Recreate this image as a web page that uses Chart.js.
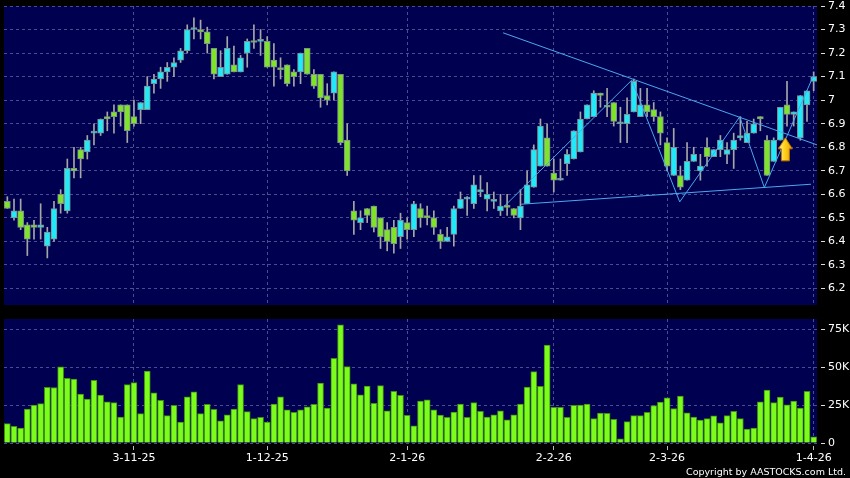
<!DOCTYPE html>
<html>
<head>
<meta charset="utf-8">
<script src="https://cdn.jsdelivr.net/npm/chart.js@4.4.1/dist/chart.umd.min.js"></script>
<style>
  html, body { margin: 0; padding: 0; background: #000; }
  #wrap { position: relative; width: 850px; height: 478px; background: #000; overflow: hidden; }
  #priceBox { position: absolute; left: 0; top: 0; width: 850px; height: 310px; }
  #volBox { position: absolute; left: 0; top: 310px; width: 850px; height: 168px; }
  #copy { position: absolute; right: 4px; top: 466px; font: 9.5px "DejaVu Sans"; color: #fff; white-space: nowrap; }
</style>
</head>
<body>
<div id="wrap">
  <div id="priceBox"><canvas id="priceChart"></canvas></div>
  <div id="volBox"><canvas id="volumeChart"></canvas></div>
  <div id="copy">Copyright by AASTOCKS.com Ltd.</div>
</div>
<script>
// daily candles, one per trading day (index 0 .. 121)
const openPrices = [
  6.57, 6.50, 6.53, 6.47, 6.47, 6.46, 6.38, 6.41, 6.60, 6.53,
  6.71, 6.79, 6.78, 6.86, 6.86, 6.93, 6.95, 6.98, 6.98, 6.93,
  6.96, 6.96, 7.07, 7.09, 7.12, 7.14, 7.17, 7.21, 7.30, 7.30,
  7.29, 7.22, 7.10, 7.11, 7.15, 7.12, 7.20, 7.25, 7.25, 7.25,
  7.17, 7.135, 7.15, 7.12, 7.12, 7.22, 7.11, 7.11, 7.02, 7.03,
  7.11, 6.83, 6.53, 6.48, 6.54, 6.55, 6.50, 6.45, 6.46, 6.42,
  6.48, 6.45, 6.54, 6.51, 6.50, 6.43, 6.40, 6.43, 6.54, 6.58,
  6.56, 6.61, 6.58, 6.57, 6.53, 6.55, 6.54, 6.50, 6.56, 6.63,
  6.72, 6.84, 6.69, 6.66, 6.73, 6.75, 6.78, 6.92, 6.93, 7.03,
  6.975, 6.99, 6.90, 6.90, 6.95, 6.93, 6.98, 6.96, 6.93, 6.82,
  6.68, 6.68, 6.66, 6.74, 6.70, 6.80, 6.76, 6.79, 6.77, 6.79,
  6.84, 6.82, 6.86, 6.93, 6.83, 6.74, 6.83, 6.98, 6.94, 6.84,
  6.98, 7.08
];
const highPrices = [
  6.59, 6.58, 6.58, 6.48, 6.49, 6.56, 6.46, 6.57, 6.62, 6.75,
  6.80, 6.80, 6.85, 6.90, 6.92, 6.95, 6.98, 6.98, 6.98, 7.00,
  6.99, 7.10, 7.11, 7.14, 7.16, 7.18, 7.22, 7.32, 7.35, 7.34,
  7.31, 7.22, 7.21, 7.27, 7.23, 7.19, 7.26, 7.32, 7.30, 7.27,
  7.24, 7.18, 7.15, 7.13, 7.20, 7.22, 7.13, 7.11, 7.07, 7.12,
  7.11, 6.90, 6.57, 6.53, 6.54, 6.55, 6.50, 6.48, 6.49, 6.52,
  6.50, 6.57, 6.56, 6.55, 6.53, 6.45, 6.46, 6.55, 6.61, 6.59,
  6.68, 6.68, 6.65, 6.61, 6.60, 6.60, 6.54, 6.62, 6.70, 6.81,
  6.92, 6.90, 6.75, 6.75, 6.79, 6.87, 6.95, 6.98, 7.04, 7.03,
  7.05, 6.99, 6.97, 7.01, 7.09, 7.05, 7.05, 6.99, 6.95, 6.84,
  6.88, 6.72, 6.82, 6.80, 6.77, 6.84, 6.79, 6.85, 6.82, 6.86,
  6.93, 6.91, 6.92, 6.93, 6.85, 6.84, 6.97, 7.08, 6.95, 7.02,
  7.04, 7.12
];
const lowPrices = [
  6.54, 6.49, 6.45, 6.34, 6.41, 6.41, 6.33, 6.40, 6.52, 6.52,
  6.67, 6.67, 6.75, 6.81, 6.85, 6.87, 6.86, 6.89, 6.82, 6.89,
  6.90, 6.96, 7.03, 7.05, 7.08, 7.10, 7.16, 7.20, 7.26, 7.26,
  7.20, 7.09, 7.10, 7.11, 7.12, 7.12, 7.14, 7.22, 7.19, 7.14,
  7.06, 7.09, 7.06, 7.06, 7.07, 7.11, 7.05, 6.97, 6.98, 7.00,
  6.81, 6.68, 6.43, 6.45, 6.48, 6.44, 6.37, 6.36, 6.35, 6.37,
  6.41, 6.42, 6.46, 6.47, 6.43, 6.37, 6.40, 6.38, 6.54, 6.51,
  6.54, 6.59, 6.53, 6.54, 6.51, 6.51, 6.50, 6.45, 6.56, 6.63,
  6.72, 6.72, 6.61, 6.66, 6.68, 6.75, 6.78, 6.92, 6.93, 6.97,
  6.93, 6.89, 6.82, 6.82, 6.95, 6.93, 6.93, 6.91, 6.81, 6.70,
  6.68, 6.62, 6.66, 6.74, 6.66, 6.72, 6.76, 6.76, 6.73, 6.71,
  6.83, 6.82, 6.86, 6.87, 6.68, 6.74, 6.83, 6.89, 6.89, 6.83,
  6.91, 7.04
];
const closePrices = [
  6.54, 6.53, 6.46, 6.41, 6.46, 6.47, 6.44, 6.54, 6.56, 6.71,
  6.70, 6.75, 6.83, 6.86, 6.92, 6.92, 6.93, 6.95, 6.87, 6.90,
  6.99, 7.06, 7.09, 7.12, 7.14, 7.16, 7.21, 7.30, 7.30, 7.29,
  7.24, 7.11, 7.14, 7.22, 7.12, 7.18, 7.25, 7.245, 7.25, 7.14,
  7.14, 7.13, 7.07, 7.10, 7.20, 7.11, 7.06, 7.01, 7.00, 7.12,
  6.82, 6.70, 6.49, 6.50, 6.51, 6.46, 6.42, 6.40, 6.39, 6.49,
  6.45, 6.56, 6.50, 6.50, 6.46, 6.40, 6.42, 6.54, 6.58, 6.58,
  6.64, 6.62, 6.60, 6.57, 6.55, 6.545, 6.51, 6.55, 6.64, 6.79,
  6.89, 6.72, 6.66, 6.66, 6.77, 6.87, 6.92, 6.98, 7.03, 7.02,
  6.97, 6.91, 6.90, 6.94, 7.08, 6.98, 6.95, 6.93, 6.86, 6.72,
  6.80, 6.63, 6.74, 6.77, 6.72, 6.76, 6.79, 6.83, 6.79, 6.83,
  6.85, 6.86, 6.90, 6.92, 6.68, 6.83, 6.97, 6.94, 6.95, 7.02,
  7.04, 7.10
];
// daily volume, thousands of shares
const volumes = [
  12.8, 11.0, 9.9, 22.5, 25.1, 26.0, 36.8, 36.6, 50.3, 42.7,
  42.3, 32.4, 29.1, 41.4, 31.7, 27.3, 26.7, 17.2, 38.6, 39.9,
  19.4, 47.6, 33.1, 28.2, 18.1, 24.9, 13.9, 30.6, 33.9, 19.4,
  25.5, 22.2, 14.7, 18.7, 22.5, 38.6, 20.7, 16.1, 16.9, 13.9,
  25.8, 30.6, 22.0, 20.2, 22.0, 24.0, 25.5, 39.7, 23.1, 56.0,
  78.2, 50.5, 39.2, 31.9, 37.7, 26.2, 37.9, 21.2, 34.1, 31.5,
  18.3, 11.4, 27.8, 28.6, 22.0, 18.5, 16.9, 20.5, 25.8, 16.9,
  26.7, 20.9, 17.2, 18.7, 21.2, 15.4, 18.7, 25.8, 37.0, 47.2,
  37.5, 64.8, 23.6, 23.6, 16.9, 24.9, 25.1, 25.8, 16.1, 19.8,
  19.6, 15.6, 2.8, 14.1, 18.1, 18.1, 20.2, 24.7, 27.1, 29.8,
  22.7, 31.1, 20.0, 17.2, 15.2, 16.1, 17.9, 13.4, 18.1, 20.9,
  16.1, 9.2, 9.9, 27.3, 35.0, 26.7, 30.4, 25.3, 27.8, 23.1,
  34.1, 4.0
];
const dateTicks = [19, 39, 60, 82, 99, 121];
const dateLabels = ["3-11-25", "1-12-25", "2-1-26", "2-2-26", "2-3-26", "1-4-26"];
const priceTicks = [6.2, 6.3, 6.4, 6.5, 6.6, 6.7, 6.8, 6.9, 7.0, 7.1, 7.2, 7.3, 7.4];
const volumeTicks = [0, 25, 50, 75];

// drawn trend lines (x = day index, y = price)
const resistanceLine = [{x: 74.4, y: 7.286}, {x: 121.5, y: 6.81}];
const supportLine = [{x: 77.1, y: 6.558}, {x: 120.6, y: 6.643}];
const swingLine = [
  {x: 74.6, y: 6.55}, {x: 93.7, y: 7.085}, {x: 100.9, y: 6.568},
  {x: 109.9, y: 6.929}, {x: 113.6, y: 6.629}, {x: 121, y: 7.106}
];
const signalIndex = 116.75;
const signalPrice = 6.84;

const upColor = "#22e8f8";
const downColor = "#7fe32a";
const gridColor = "#4c4c92";
const plotColor = "#000050";
const lineColor = "#4aa8f0";

Chart.defaults.font.family = "DejaVu Sans";
Chart.defaults.font.size = 11;
Chart.defaults.color = "#ffffff";

const plotBackground = {
  id: "plotBackground",
  beforeDraw(chart) {
    const { ctx, chartArea: a } = chart;
    ctx.save();
    ctx.fillStyle = plotColor;
    ctx.fillRect(a.left, a.top, a.right - a.left, a.bottom - a.top);
    ctx.restore();
  }
};

const signalArrow = {
  id: "signalArrow",
  afterDatasetsDraw(chart) {
    const { ctx, scales } = chart;
    const cx = scales.x.getPixelForValue(signalIndex);
    const top = scales.y.getPixelForValue(signalPrice);
    ctx.save();
    ctx.beginPath();
    ctx.moveTo(cx, top);
    ctx.lineTo(cx + 7, top + 11);
    ctx.lineTo(cx + 4, top + 11);
    ctx.lineTo(cx + 4, top + 23);
    ctx.lineTo(cx - 4, top + 23);
    ctx.lineTo(cx - 4, top + 11);
    ctx.lineTo(cx - 7, top + 11);
    ctx.closePath();
    const g = ctx.createLinearGradient(cx - 7, 0, cx + 7, 0);
    g.addColorStop(0, "#fff0a0");
    g.addColorStop(0.45, "#ffd21e");
    g.addColorStop(1, "#f09a00");
    ctx.fillStyle = g;
    ctx.fill();
    ctx.strokeStyle = "#b87400";
    ctx.lineWidth = 1;
    ctx.stroke();
    ctx.restore();
  }
};

const days = openPrices.map((_, i) => i);
const bodyColors = days.map(i => closePrices[i] >= openPrices[i] ? upColor : downColor);

const xScale = (showLabels) => ({
  type: "linear",
  min: -0.5,
  max: 121.5,
  offset: false,
  afterBuildTicks: s => { s.ticks = dateTicks.map(v => ({ value: v })); },
  ticks: {
    display: showLabels,
    autoSkip: false,
    maxRotation: 0,
    padding: 2,
    callback: (v, i) => dateLabels[i]
  },
  grid: {
    color: gridColor,
    offset: false,
    drawTicks: showLabels,
    tickLength: 7,
    tickColor: "#bbbbbb",
    tickBorderDash: [0, 3, 4, 10]
  },
  border: { display: false, dash: [3, 3] },
  afterFit: s => { s.height = showLabels ? 20 : 0; }
});

const yGrid = {
  color: gridColor,
  tickLength: 11,
  tickColor: "#dddddd",
  tickBorderDash: [0, 4, 4, 20]
};
const yTickFont = { family: "DejaVu Sans", size: 11, lineHeight: 0.5 };

new Chart(document.getElementById("priceChart"), {
  type: "bar",
  data: {
    datasets: [
      {
        type: "bar",
        data: days.map(i => ({ x: i, y: [lowPrices[i], highPrices[i]] })),
        backgroundColor: "#a6a6a6",
        barThickness: 1,
        grouped: false,
        order: 3
      },
      {
        type: "bar",
        data: days.map(i => ({ x: i, y: [openPrices[i], closePrices[i]] })),
        backgroundColor: bodyColors,
        borderColor: "#7d8f8f",
        borderWidth: 1,
        borderSkipped: false,
        barThickness: 6,
        minBarLength: 2,
        grouped: false,
        order: 2
      },
      { type: "line", data: resistanceLine, borderColor: lineColor, borderWidth: 1, pointRadius: 0, order: 1 },
      { type: "line", data: supportLine, borderColor: lineColor, borderWidth: 1, pointRadius: 0, order: 1 },
      { type: "line", data: swingLine, borderColor: lineColor, borderWidth: 1, pointRadius: 0, order: 1 }
    ]
  },
  options: {
    responsive: true,
    maintainAspectRatio: false,
    animation: false,
    events: [],
    devicePixelRatio: 1,
    layout: { padding: { top: 6, left: 4, bottom: 5, right: 0 } },
    plugins: { legend: { display: false }, tooltip: { enabled: false } },
    scales: {
      x: xScale(false),
      y: {
        position: "right",
        min: 6.13,
        max: 7.4,
        afterBuildTicks: s => { s.ticks = priceTicks.map(v => ({ value: v })); },
        ticks: { padding: 0, font: yTickFont, callback: v => String(+v.toFixed(1)) },
        grid: yGrid,
        border: { display: false, dash: [3, 3] },
        afterFit: s => { s.width = 33; }
      }
    }
  },
  plugins: [plotBackground, signalArrow]
});

new Chart(document.getElementById("volumeChart"), {
  type: "bar",
  data: {
    datasets: [{
      data: days.map(i => ({ x: i, y: volumes[i] })),
      backgroundColor: "#7cfc1c",
      borderColor: "#3f8f12",
      borderWidth: 1,
      borderSkipped: "bottom",
      barThickness: 6,
      grouped: false
    }]
  },
  options: {
    responsive: true,
    maintainAspectRatio: false,
    animation: false,
    events: [],
    devicePixelRatio: 1,
    layout: { padding: { top: 9, left: 4, bottom: 15, right: 0 } },
    plugins: { legend: { display: false }, tooltip: { enabled: false } },
    scales: {
      x: xScale(true),
      y: {
        position: "right",
        min: 0,
        max: 82,
        afterBuildTicks: s => { s.ticks = volumeTicks.map(v => ({ value: v })); },
        ticks: { padding: 0, font: yTickFont, callback: v => v === 0 ? "0" : v + "K" },
        grid: yGrid,
        border: { display: false, dash: [3, 3] },
        afterFit: s => { s.width = 33; }
      }
    }
  },
  plugins: [plotBackground]
});
</script>
</body>
</html>
